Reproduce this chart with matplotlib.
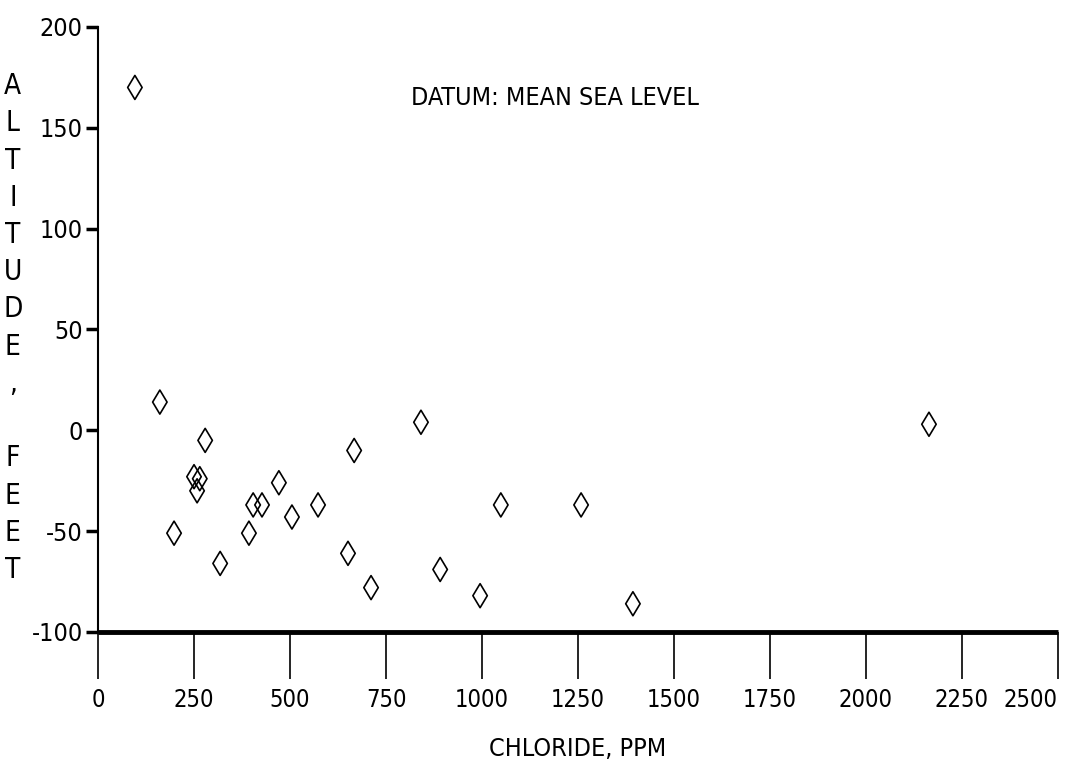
import matplotlib
matplotlib.use("Agg")
import matplotlib.pyplot as plt
import matplotlib.transforms as mtransforms

# chloride (ppm) vs altitude (feet)
chloride = [96, 161, 198, 279, 250, 265, 258, 318, 393, 404, 427, 471, 505,
            573, 651, 667, 711, 841, 891, 995, 1049, 1258, 1393, 2164]
altitude = [170, 14, -51, -5, -23, -24, -30, -66, -51, -37, -37, -26, -43,
            -37, -61, -10, -78, 4, -69, -82, -37, -37, -86, 3]

xticks = [0, 250, 500, 750, 1000, 1250, 1500, 1750, 2000, 2250, 2500]
yticks = [-100, -50, 0, 50, 100, 150, 200]

plt.rcParams['font.family'] = ["DejaVu Sans"]
plt.rcParams['font.stretch'] = "condensed"

fig = plt.figure(figsize=(10.69, 7.63), dpi=100)
ax = fig.add_axes([0.0917, 0.1717, 0.898, 0.793])

ax.scatter(chloride, altitude, marker="d", s=150, facecolors="none",
           edgecolors="black", linewidths=1.2, zorder=3)

ax.set_xlim(0, 2500)
ax.set_ylim(-100, 200)
ax.set_xticks(xticks)
ax.set_yticks(yticks)
ax.set_xticklabels([str(v) for v in xticks], fontsize=17)
ax.set_yticklabels([str(v) for v in yticks], fontsize=18)

# last x label sits against the right edge, as in the original
last = ax.get_xticklabels()[-1]
last.set_horizontalalignment("right")
last.set_transform(last.get_transform() +
                   mtransforms.ScaledTranslation(0.1, 0, fig.dpi_scale_trans))

for s in ["top", "right"]:
    ax.spines[s].set_visible(False)
ax.spines["left"].set_linewidth(1.5)
ax.spines["bottom"].set_linewidth(3.5)
ax.spines["bottom"].set_capstyle("butt")

ax.tick_params(axis="x", direction="out", length=34, width=1.2, pad=6)
ax.tick_params(axis="y", direction="out", length=9, width=2.5, pad=2)

ax.set_xlabel("CHLORIDE, PPM", fontsize=18, labelpad=18)

ax.text(1190, 165, "DATUM: MEAN SEA LEVEL", fontsize=18,
        ha="center", va="center")

fig.text(0.012, 0.57, "\n".join("ALTITUDE, FEET"), fontsize=20,
         ha="center", va="center", linespacing=1.42)

fig.savefig("out.png", dpi=100, facecolor="white")
